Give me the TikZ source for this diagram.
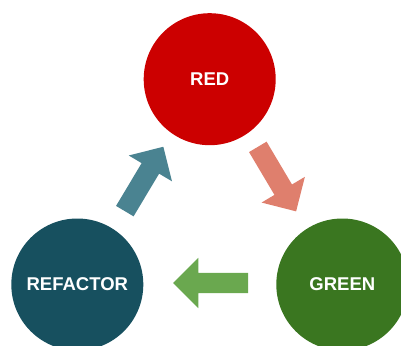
\documentclass[tikz,border=0pt]{standalone}
\usepackage{fontspec}
\setmainfont{Liberation Sans}
\usetikzlibrary{shapes.arrows}
\definecolor{redfill}{HTML}{CC0000}
\definecolor{refactorfill}{HTML}{17505F}
\definecolor{greenfill}{HTML}{3A7620}
\definecolor{tealarrow}{HTML}{4A8391}
\definecolor{salmonarrow}{HTML}{DF7F6D}
\definecolor{greenarrow}{HTML}{6AA84F}
\tikzset{
  phase/.style={circle, minimum size=132pt, inner sep=0pt, text=white,
    font=\fontsize{18.5}{18.5}\selectfont\bfseries},
  % shaft 20pt wide (2 x inner ysep), head 50pt wide, 75pt long overall
  blockarrow/.style={single arrow, draw=none, inner xsep=0pt, inner ysep=10pt,
    minimum height=75pt, single arrow head extend=15pt,
    single arrow tip angle=90, anchor=tail}
}
\begin{document}
\begin{tikzpicture}[x=1pt,y=-1pt]
  \useasboundingbox (0,0) rectangle (401,345);
  \clip (0,0) rectangle (401,345);
  % the three phases of the cycle
  \node[phase, fill=redfill] (red) at (209.7,79.2) {RED};
  \node[phase, fill=refactorfill] (refactor) at (77.3,284.5) {REFACTOR};
  \node[phase, fill=greenfill] (green) at (342.3,284.5) {GREEN};
  % block arrows between them, placed by their tails
  \node[blockarrow, fill=salmonarrow, rotate=-59.3] (redtogreen) at (257.7,146.7) {};
  \node[blockarrow, fill=greenarrow, rotate=180] (greentorefactor) at (248.3,283) {};
  \node[blockarrow, fill=tealarrow, rotate=59.1] (refactortored) at (124.7,211.3) {};
\end{tikzpicture}
\end{document}
